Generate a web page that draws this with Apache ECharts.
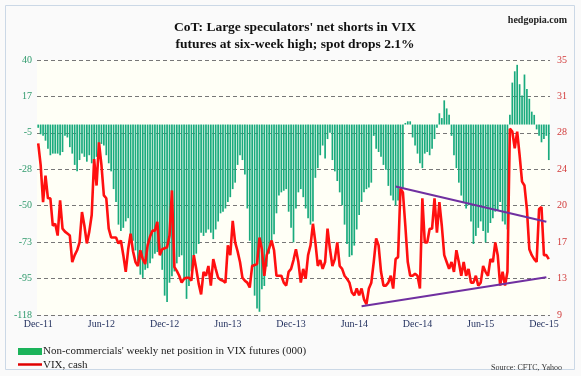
<!DOCTYPE html>
<html>
<head>
<meta charset="utf-8">
<script src="https://cdn.jsdelivr.net/npm/echarts@6/dist/echarts.min.js"></script>
<style>
html, body { margin: 0; padding: 0; background: #fff; }
#chart { width: 581px; height: 376px; }
</style>
</head>
<body>
<div id="chart"></div>
<script>
// weekly CoT dates, first report of Dec 2011
const startDate = '2011-12-06'
const tickLabels = ['Dec-11', 'Jun-12', 'Dec-12', 'Jun-13', 'Dec-13', 'Jun-14', 'Dec-14', 'Jun-15', 'Dec-15']
const tickWeeks = [0, 26, 52, 78, 104, 130, 156, 182, 208]
const leftTicks = [-118, -95, -73, -50, -28, -5, 17, 40]
const rightTicks = [9, 13, 17, 20, 24, 28, 31, 35]

// non-commercials net position (000)
const netPosition = [
    -2, -6, -7, -10, -15, -19, -18, -18, -18, -19,
    -17, -7, -8, -14, -18, -25, -29, -22, -18, -20,
    -23, -19, -24, -27, -20, -15, -12, -13, -19, -24,
    -29, -40, -48, -62, -66, -64, -60, -58, -69, -72,
    -78, -85, -93, -95, -90, -89, -86, -83, -80, -79,
    -80, -90, -106, -110, -98, -94, -91, -86, -82, -81,
    -96, -108, -100, -91, -85, -80, -74, -67, -69, -67,
    -65, -67, -71, -65, -60, -55, -54, -52, -48, -45,
    -40, -36, -25, -19, -22, -31, -52, -72, -88, -106,
    -114, -116, -102, -100, -88, -80, -73, -68, -55, -44,
    -42, -41, -40, -54, -64, -73, -52, -42, -40, -45,
    -52, -58, -62, -60, -33, -27, -19, -13, -21, -9,
    -5, -22, -29, -35, -42, -50, -62, -74, -82, -81,
    -75, -65, -56, -48, -42, -40, -39, -36, -7, -15,
    -17, -20, -25, -28, -38, -44, -47, -50, -47, -44,
    -40, 1, 2, 2, -8, -13, -18, -24, -27, -18,
    -17, -19, -15, -9, -2, 7, 4, 15, 10, 6,
    -7, -19, -27, -36, -44, -48, -52, -50, -60, -74,
    -69, -64, -60, -66, -73, -67, -61, -58, -54, -53,
    -48, -60, -62, -65, 6, 26, 33, 37, 25, 18,
    31, 22, 16, 8, 6, -3, -7, -11, -9, -7,
    -22
]

// VIX cash, weekly
const vixCash = [
    26.5, 24.3, 20.5, 23.2, 20.9, 20.9, 18.1, 18.3, 17.1, 20.7,
    17.8, 17.5, 17.3, 17.1, 14.4, 15.1, 15.6, 16.4, 19.5, 18.1,
    16.3, 17.5, 19.2, 24.9, 22.2, 26.6, 24.3, 21.2, 20.9, 17.8,
    16.9, 16.9, 16.9, 16.3, 16.6, 15.1, 13.4, 15.7, 17.3, 15.5,
    14.4, 14.0, 15.6, 14.7, 14.2, 16.1, 17.0, 17.6, 17.6, 18.5,
    15.1, 15.7, 15.8, 15.9, 17.1, 21.7, 13.9, 13.5, 13.0, 12.3,
    12.7, 12.8, 12.8, 12.5, 15.1, 13.7, 12.2, 11.1, 13.4, 13.0,
    14.0, 12.0, 14.7, 13.7, 12.8, 12.6, 12.5, 12.3, 16.1, 15.1,
    18.6, 16.4, 15.5, 14.4, 12.8, 12.5, 12.3, 11.8, 14.0, 14.1,
    14.2, 16.9, 15.7, 13.0, 15.1, 15.8, 16.6, 15.6, 13.0, 13.0,
    13.0, 12.3, 12.0, 13.4, 13.7, 14.6, 15.7, 14.4, 12.3, 13.7,
    12.7, 15.1, 16.1, 18.3, 16.4, 14.0, 14.6, 13.7, 14.4, 17.8,
    15.7, 14.0, 14.7, 16.4, 14.0, 13.7, 13.0, 12.7, 12.3, 11.3,
    11.0, 11.7, 11.0, 11.7, 10.6, 10.1, 11.7, 12.3, 14.4, 16.8,
    16.1, 13.4, 12.0, 12.0, 12.3, 13.0, 11.7, 14.7, 14.9, 21.9,
    21.5, 18.1, 14.4, 13.0, 13.0, 13.2, 13.0, 11.7, 20.9, 16.4,
    16.4, 17.8, 17.8, 20.9, 17.4, 20.5, 18.1, 15.1, 14.4, 13.7,
    14.4, 13.4, 15.6, 14.4, 13.0, 14.4, 13.0, 13.7, 12.3, 12.3,
    13.0, 12.0, 12.3, 14.0, 13.4, 13.0, 14.7, 14.4, 16.4, 15.1,
    12.0, 13.4, 12.0, 13.4, 28.0, 27.7, 26.0, 27.7, 25.3, 22.6,
    22.2, 19.8, 15.7, 15.1, 14.7, 14.4, 19.8, 20.0, 15.1, 15.1,
    14.7
]

// hand drawn trend lines on VIX: [week, value]
const upperTrend = [[147, 22.1], [208.5, 18.5]]
const lowerTrend = [[132.7, 9.9], [208.5, 12.85]]

const weeks = []
const d0 = new Date(startDate + 'T00:00:00Z')
for (let i = 0; i < netPosition.length; i++) {
    const d = new Date(d0.getTime() + i * 7 * 86400000)
    weeks.push(d.toISOString().slice(0, 10))
}

function nearestTick(list, v) {
    let best = list[0]
    list.forEach(t => { if (Math.abs(t - v) < Math.abs(best - v)) best = t })
    return best
}

const serif = 'Liberation Serif'
const barColor = '#1aab7e'
const vixColor = '#ff1010'
const chart = echarts.init(document.getElementById('chart'))
chart.setOption({
    backgroundColor: '#fafafa',
    animation: false,
    title: [
        {
            text: "CoT: Large speculators' net shorts in VIX\nfutures at six-week high; spot drops 2.1%",
            left: 290,
            top: 14,
            textAlign: 'center',
            textStyle: { fontFamily: serif, fontSize: 13.5, fontWeight: 'bold', color: '#111', lineHeight: 17 }
        },
        {
            text: 'hedgopia.com',
            right: 9,
            top: 10,
            textStyle: { fontFamily: serif, fontSize: 10, fontWeight: 'bold', color: '#222' }
        },
        {
            text: 'Source: CFTC, Yahoo',
            right: 14,
            top: 359,
            textStyle: { fontFamily: serif, fontSize: 8, fontWeight: 'normal', color: '#333' }
        }
    ],
    graphic: [
        {
            type: 'rect',
            shape: { x: 5.5, y: 5.5, width: 569, height: 364 },
            style: { fill: 'none', stroke: '#cbd8e6', lineWidth: 1 },
            silent: true
        },
        // legend
        {
            type: 'rect',
            shape: { x: 18, y: 348, width: 24, height: 7 },
            style: { fill: '#1bb35a' }
        },
        {
            type: 'line',
            shape: { x1: 18, y1: 364.5, x2: 42, y2: 364.5 },
            style: { stroke: '#e00000', lineWidth: 2.5 }
        },
        {
            type: 'text',
            x: 43,
            y: 351.5,
            style: {
                text: "Non-commercials' weekly net position in VIX futures (000)",
                font: '11px "Liberation Serif"',
                fill: '#222',
                verticalAlign: 'middle'
            }
        },
        {
            type: 'text',
            x: 43,
            y: 365,
            style: {
                text: 'VIX, cash',
                font: '11px "Liberation Serif"',
                fill: '#222',
                verticalAlign: 'middle'
            }
        }
    ],
    grid: {
        left: 37,
        right: 31,
        top: 60,
        bottom: 61,
        show: true,
        backgroundColor: '#fffff6',
        borderWidth: 0
    },
    xAxis: {
        type: 'category',
        data: weeks,
        axisLine: { show: false },
        axisTick: { show: false },
        axisLabel: {
            interval: (idx) => tickWeeks.indexOf(idx) >= 0,
            formatter: (val, idx) => tickLabels[tickWeeks.indexOf(idx)] || '',
            fontFamily: serif,
            fontSize: 10,
            color: '#1f2d5c',
            margin: 4
        }
    },
    yAxis: [
        {
            type: 'value',
            min: -118,
            max: 40,
            interval: 158 / 7,
            axisLine: { show: false },
            axisTick: { show: false },
            axisLabel: {
                formatter: (v) => String(nearestTick(leftTicks, v)),
                fontFamily: serif,
                fontSize: 10,
                color: '#2f9a6c',
                margin: 5
            },
            splitLine: { lineStyle: { color: '#777', type: [4, 3], width: 1 } }
        },
        {
            type: 'value',
            min: 9,
            max: 35,
            interval: 26 / 7,
            axisLine: { show: false },
            axisTick: { show: false },
            axisLabel: {
                formatter: (v) => String(nearestTick(rightTicks, v)),
                fontFamily: serif,
                fontSize: 10,
                color: '#d23a3a',
                margin: 7
            },
            splitLine: { show: false }
        }
    ],
    series: [
        {
            name: 'net position',
            type: 'bar',
            data: netPosition,
            barCategoryGap: '30%',
            itemStyle: { color: barColor }
        },
        {
            name: 'VIX, cash',
            type: 'line',
            yAxisIndex: 1,
            data: vixCash,
            symbol: 'none',
            lineStyle: { color: vixColor, width: 2.6 },
            z: 5
        },
        {
            name: 'upper trend',
            type: 'line',
            yAxisIndex: 1,
            data: upperTrend,
            symbol: 'none',
            lineStyle: { color: '#7030a0', width: 2 },
            z: 6
        },
        {
            name: 'lower trend',
            type: 'line',
            yAxisIndex: 1,
            data: lowerTrend,
            symbol: 'none',
            lineStyle: { color: '#7030a0', width: 2 },
            z: 6
        }
    ]
})
</script>
</body>
</html>
